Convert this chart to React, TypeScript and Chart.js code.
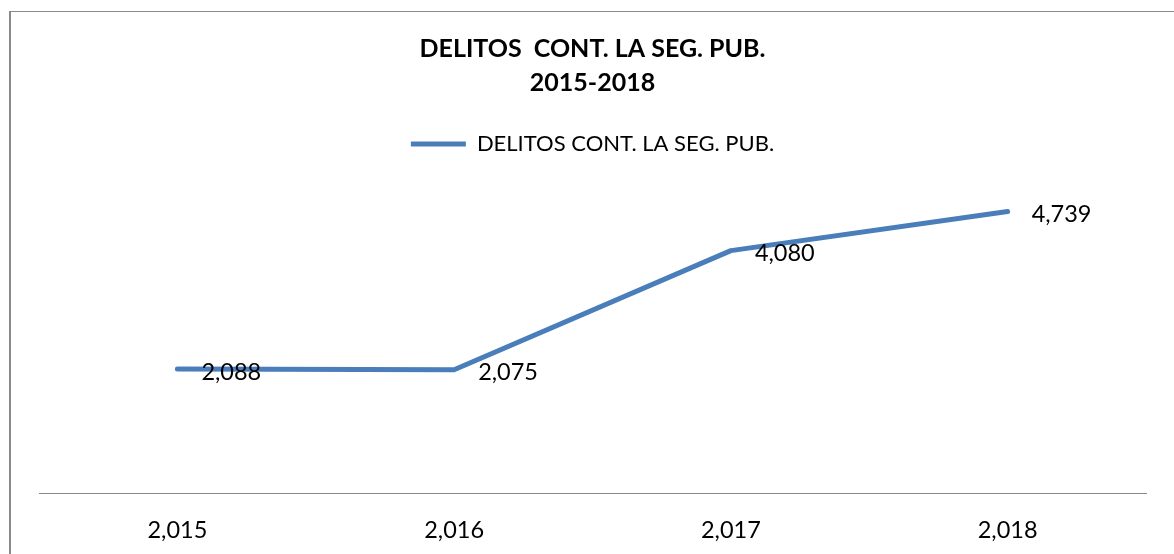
import React, { useEffect, useRef } from 'react';
import { Chart, registerables } from 'chart.js';

Chart.register(...registerables);

// ---- data ----
const categories: string[] = ['2,015', '2,016', '2,017', '2,018'];
const seriesName = 'DELITOS CONT. LA SEG. PUB.';
const seriesValues: number[] = [2088, 2075, 4080, 4739];
const titleLines: string[] = ['DELITOS  CONT. LA SEG. PUB.', '2015-2018'];
const yMin = 0;
const yMax = 5000;

const FONT = 'Lato, "Open Sans", sans-serif';
const LINE_COLOR = '#4A7EBB';

const valueLabels = {
  id: 'valueLabels',
  afterDatasetsDraw(chart: any) {
    const ctx = chart.ctx;
    const meta = chart.getDatasetMeta(0);
    ctx.save();
    ctx.font = `23.5px ${FONT}`;
    ctx.fillStyle = '#000';
    ctx.textAlign = 'left';
    ctx.textBaseline = 'middle';
    meta.data.forEach((pt: any, i: number) => {
      ctx.fillText(seriesValues[i].toLocaleString('en-US'), pt.x + 24, pt.y + 3);
    });
    ctx.restore();
  },
};

const legendGap = {
  id: 'legendGap',
  afterInit(chart: any) {
    const legend = chart.legend;
    if (!legend) return;
    const fit = legend.fit;
    legend.fit = function () {
      fit.call(this);
      this.height += 31;
    };
  },
};

export default function App() {
  const ref = useRef<HTMLCanvasElement | null>(null);

  useEffect(() => {
    if (!ref.current) return;
    const chart = new Chart(ref.current, {
      type: 'line',
      data: {
        labels: categories,
        datasets: [
          {
            label: seriesName,
            data: seriesValues,
            borderColor: LINE_COLOR,
            backgroundColor: LINE_COLOR,
            borderWidth: 5,
            borderCapStyle: 'round',
            borderJoinStyle: 'round',
            pointRadius: 0,
            pointHoverRadius: 0,
            fill: false,
            tension: 0,
          },
        ],
      },
      options: {
        responsive: false,
        animation: false,
        layout: { padding: { left: 39, right: 28, top: 0, bottom: 0 } },
        plugins: {
          title: {
            display: true,
            text: titleLines,
            color: '#000',
            font: { family: FONT, size: 25, weight: 'bold', lineHeight: '34px' },
            padding: { top: 32, bottom: 0 },
          },
          legend: {
            display: true,
            labels: {
              usePointStyle: true,
              pointStyle: 'line',
              pointStyleWidth: 55,
              color: '#000',
              font: { family: FONT, size: 22 },
              padding: 33,
            },
          },
          tooltip: { enabled: false },
        },
        scales: {
          x: {
            offset: true,
            grid: { display: false, drawTicks: false },
            border: { display: true, color: '#888', width: 1 },
            ticks: { color: '#000', font: { family: FONT, size: 23.5 }, padding: 23 },
            afterFit: (s: any) => {
              s.height = 61;
            },
          },
          y: { display: false, min: yMin, max: yMax },
        },
      },
      plugins: [valueLabels, legendGap],
    } as any);
    return () => chart.destroy();
  }, []);

  return (
    <div
      style={{
        position: 'fixed',
        left: 0,
        top: 0,
        width: 1174,
        height: 554,
        overflow: 'hidden',
        background: '#fff',
      }}
    >
      <div
        style={{
          position: 'absolute',
          left: 9,
          top: 11,
          width: 1300,
          height: 700,
          borderLeft: '2px solid #8a8a8a',
          borderTop: '1px solid #8a8a8a',
        }}
      />
      <canvas
        ref={ref}
        width={1174}
        height={554}
        style={{ position: 'absolute', left: 0, top: 0 }}
      />
    </div>
  );
}
